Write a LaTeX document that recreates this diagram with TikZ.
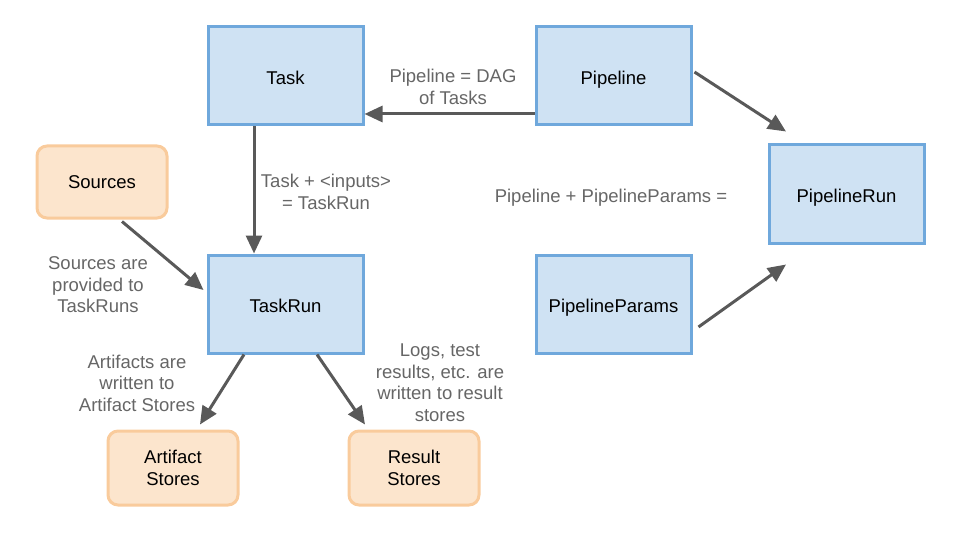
\documentclass[tikz,border=0pt]{standalone}
\usepackage{fontspec}
\setmainfont{Liberation Sans}
\usetikzlibrary{arrows.meta}
\definecolor{bfill}{HTML}{CFE2F3}
\definecolor{bdraw}{HTML}{6FA8DC}
\definecolor{ofill}{HTML}{FCE5CD}
\definecolor{odraw}{HTML}{F9CB9C}
\definecolor{arrc}{HTML}{595959}
\definecolor{lblc}{HTML}{666666}
\tikzset{
  bluebox/.style={draw=bdraw, fill=bfill, line width=3pt, minimum width=155pt, minimum height=98pt, inner sep=0pt, align=center, text height=16.5pt, text depth=0pt},
  orangebox/.style={draw=odraw, fill=ofill, line width=3pt, rounded corners=10pt, minimum width=130pt, minimum height=72pt, inner sep=0pt, align=center},
  arr/.style={draw=arrc, line width=3pt, -{Triangle[length=18pt,width=16pt]}},
  lbl/.style={text=lblc, align=center, font=\fontsize{18.5}{21.5}\selectfont},
}
\begin{document}
\begin{tikzpicture}[x=1pt,y=-1pt, every node/.append style={font=\fontsize{18.5}{21.5}\selectfont}]
\useasboundingbox (0,0) rectangle (960,540);
\node[bluebox] (task) at (285.5,76) {Task};
\node[bluebox] (pipe) at (613.5,76) {Pipeline};
\node[bluebox] (prun) at (846.5,194) {PipelineRun};
\node[bluebox] (taskrun) at (285.5,304) {TaskRun};
\node[bluebox] (pparams) at (613.5,304) {PipelineParams};
\node[orangebox] (src) at (102,182) {Sources};
\node[orangebox, minimum height=74pt] (art) at (173,468) {Artifact\\Stores};
\node[orangebox, minimum height=74pt] (res) at (414,468) {Result\\Stores};

\draw[arr] ([shift={(0,38)}]pipe.west) -- ([shift={(0,38)}]task.east);
\draw[arr] ([shift={(-31.5,0)}]task.south) -- ([shift={(-31.5,0)}]taskrun.north);
\draw[arr] ([shift={(20,2)}]src.south) -- ([shift={(-3,-14)}]taskrun.west);
\draw[arr] ([shift={(-41.5,0)}]taskrun.south) -- ([shift={(27,-5)}]art.north);
\draw[arr] ([shift={(31.5,0)}]taskrun.south) -- ([shift={(-49,-5)}]res.north);
\draw[arr] ([shift={(2,-4)}]pipe.east) -- ([shift={(-60.5,-12)}]prun.north);
\draw[arr] ([shift={(6,23)}]pparams.east) -- ([shift={(-60.5,20)}]prun.south);

\node[lbl] (l1) at (453,87) {Pipeline = DAG\\of Tasks};
\node[lbl] (l2) at (326,192) {Task + <inputs>\\= TaskRun};
\node[lbl] (l3) at (98,285) {Sources are\\provided to\\TaskRuns};
\node[lbl] (l4) at (137,383) {Artifacts are\\written to\\Artifact Stores};
\node[lbl] (l5) at (440,382.5) {Logs, test\\results, etc. are\\written to result\\stores};
\node[lbl] (l6) at (611,198) {Pipeline + PipelineParams =};
\end{tikzpicture}
\end{document}
